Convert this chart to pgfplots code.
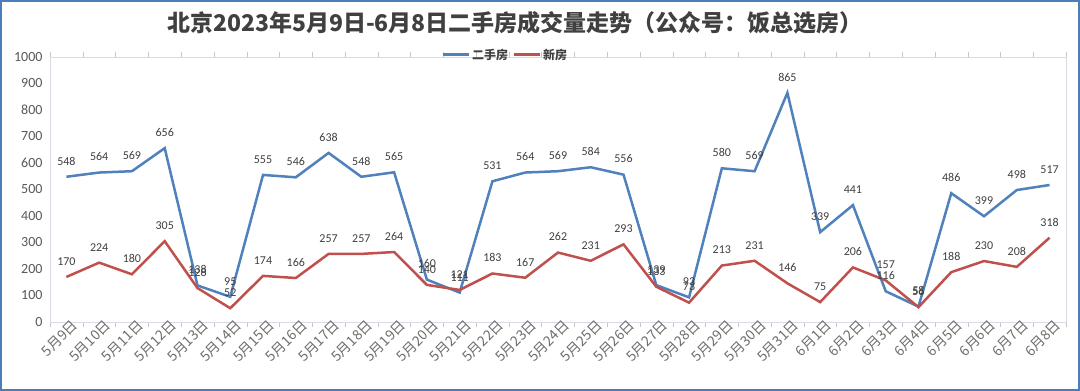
\documentclass[border=0pt]{standalone}
\usepackage{pgfplots}
\pgfplotsset{compat=1.18}
\usepackage{fontspec}
\setmainfont{Carlito}
\newfontfamily\cjk{Noto Sans CJK SC}
\definecolor{blueL}{HTML}{4F81BD}
\definecolor{redL}{HTML}{C0504D}
\definecolor{txt}{HTML}{595959}
\definecolor{ltxt}{HTML}{6E6E6E}
\definecolor{dtxt}{HTML}{404040}
\definecolor{frame}{HTML}{4A7EBB}
\begin{document}
\begin{tikzpicture}[x=1pt,y=1pt]
\draw[frame, line width=2pt, fill=white] (1,1) rectangle (1079,390);
\node[font=\cjk\bfseries\fontsize{23}{25}\selectfont, text=dtxt] at (515,368) {北京2023年5月9日-6月8日二手房成交量走势（公众号：饭总选房）};
\begin{axis}[
  at={(50pt,69pt)}, anchor=south west, scale only axis,
  width=1016pt, height=265pt,
  xmin=-0.5, xmax=30.5, ymin=0, ymax=1000,
  ytick={0,100,...,1000},
  xtick={0,...,30},
  xticklabels={5月9日,5月10日,5月11日,5月12日,5月13日,5月14日,5月15日,5月16日,5月17日,5月18日,5月19日,5月20日,5月21日,5月22日,5月23日,5月24日,5月25日,5月26日,5月27日,5月28日,5月29日,5月30日,5月31日,6月1日,6月2日,6月3日,6月4日,6月5日,6月6日,6月7日,6月8日},
  minor xtick={-0.5,0.5,...,30.5},
  tick align=outside,
  major tick length=0pt, minor tick length=5pt,
  minor x tick style={draw=gray!45},
  ytick style={draw=none},
  xtick style={draw=none},
  axis line style={draw=blue!15!gray!25},
  /pgf/number format/assume math mode=true,
  /pgf/number format/1000 sep={},
  yticklabel style={font=\fontsize{14}{14}\selectfont, text=txt, xshift=-4pt},
  xticklabel style={font=\cjk\fontsize{14}{14}\selectfont, text=ltxt, rotate=45, anchor=east, xshift=9pt, yshift=-7pt},
  legend style={draw=none, fill=none, legend columns=2, at={(0.448,1.008)}, anchor=center,
    font=\cjk\bfseries\fontsize{12}{12}\selectfont, text=dtxt,
    /tikz/every even column/.append style={column sep=2pt}},
  legend image code/.code={\draw[#1, line width=3pt] (0pt,0pt) -- (26pt,0pt);},
  nodes near coords,
  every node near coord/.append style={font=\fontsize{12}{12}\selectfont, text=dtxt, anchor=south, yshift=7pt},
  clip=false,
]
\addplot[blueL, line width=2.5pt, mark=none] coordinates {
(0,548)(1,564)(2,569)(3,656)(4,138)(5,95)(6,555)(7,546)(8,638)(9,548)(10,565)(11,160)(12,111)(13,531)(14,564)(15,569)(16,584)(17,556)(18,139)(19,93)(20,580)(21,569)(22,865)(23,339)(24,441)(25,116)(26,58)(27,486)(28,399)(29,498)(30,517)};
\addlegendentry{二手房}
\addplot[redL, line width=2.5pt, mark=none] coordinates {
(0,170)(1,224)(2,180)(3,305)(4,128)(5,52)(6,174)(7,166)(8,257)(9,257)(10,264)(11,140)(12,121)(13,183)(14,167)(15,262)(16,231)(17,293)(18,133)(19,73)(20,213)(21,231)(22,146)(23,75)(24,206)(25,157)(26,56)(27,188)(28,230)(29,208)(30,318)};
\addlegendentry{新房}
\end{axis}
\end{tikzpicture}
\end{document}
